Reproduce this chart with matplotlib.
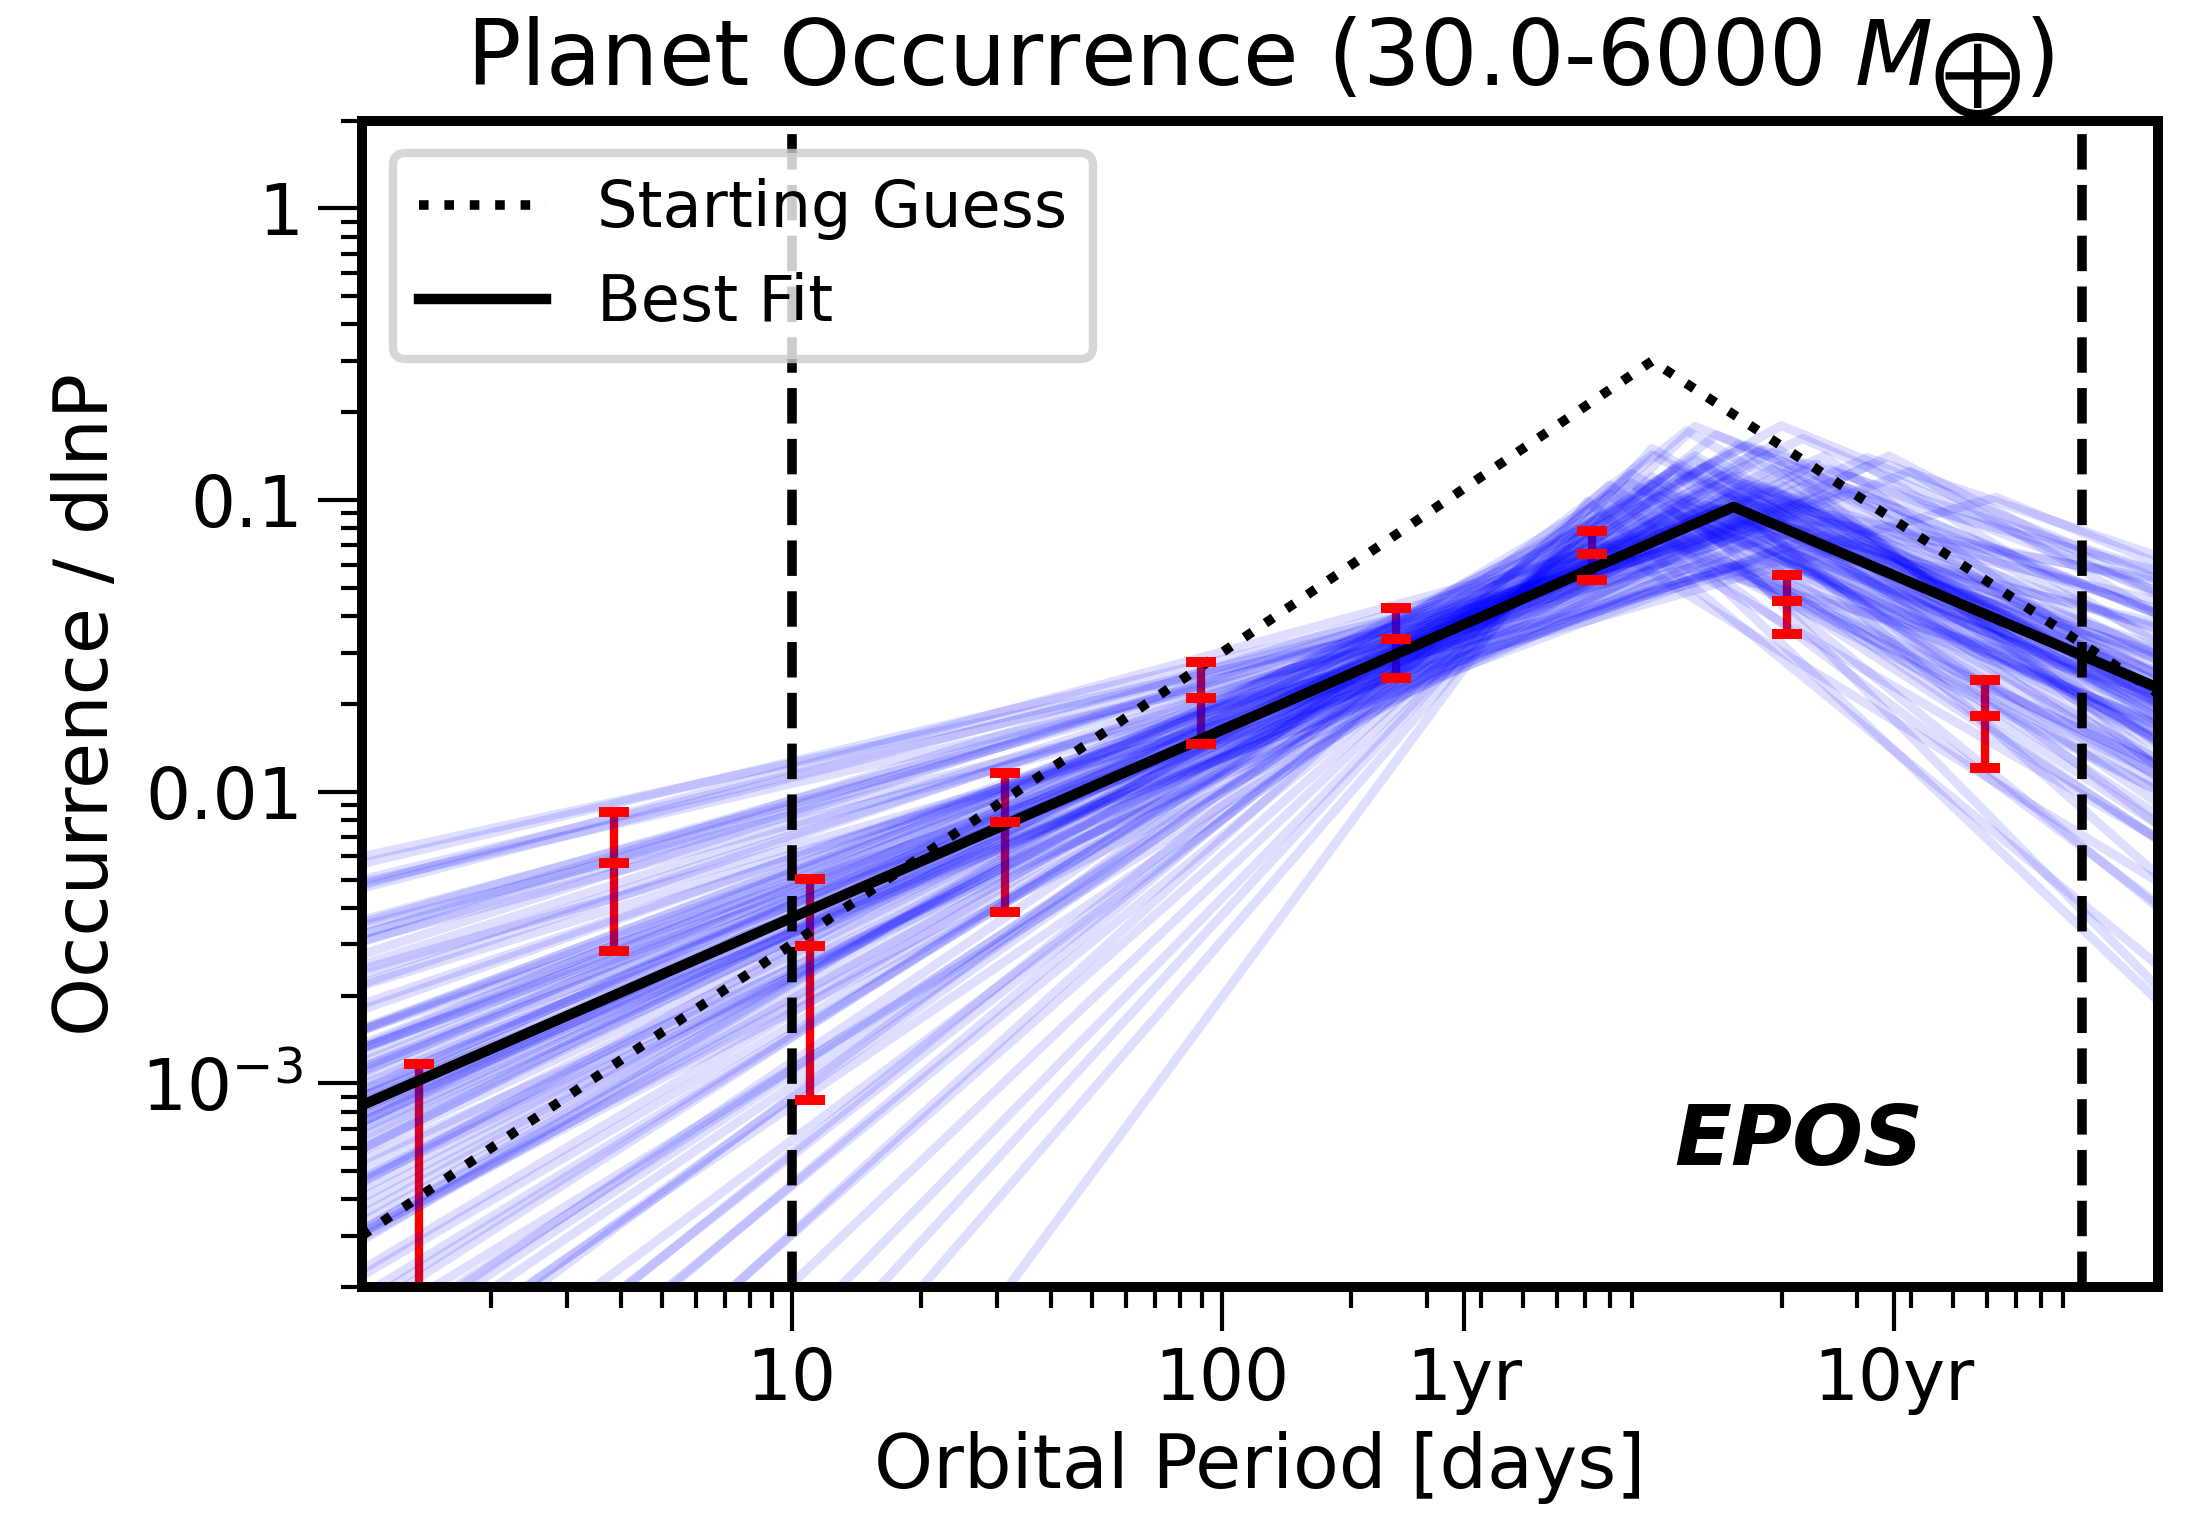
import numpy as np
import matplotlib
matplotlib.use('Agg')
import matplotlib.pyplot as plt
from matplotlib import ticker

# binned occurrence rates (red error bars): centre, lower and upper ends
bin_period = [1.36, 3.87, 11.0, 31.3, 89.3, 254, 724, 2061, 5943]
occ_mid = [1.5e-4, 5.68e-3, 2.97e-3, 7.89e-3, 0.0209, 0.0334, 0.0653, 0.0452, 0.0182]
occ_low = [1e-5, 2.85e-3, 8.77e-4, 3.88e-3, 0.01454, 0.0246, 0.0532, 0.0347, 0.0121]
occ_high = [1.17e-3, 8.54e-3, 5.04e-3, 0.01162, 0.0278, 0.0425, 0.0783, 0.0553, 0.0242]

# broken power laws: vertices at P=1, at the break and at the right edge
guess_period = [1, 1000, 15000]
guess_occ = [3.0e-4, 0.30, 0.0217]
best_period = [1, 1545, 15000]
best_occ = [8.4e-4, 0.0948, 0.0227]

# posterior samples (blue): log10 break period, log10 occurrence at P=1, at break, at P=15000
samp_logpb = [3.19, 3.25, 3.15, 3.30, 3.10, 3.20, 3.20, 3.35, 3.05, 3.25,
              3.17, 3.00, 3.08, 3.50, 3.80, 2.83, 3.22, 3.18, 3.12, 3.28,
              3.40, 3.05, 3.30, 3.15, 3.10, 3.00, 2.95, 2.90, 3.24, 3.14,
              3.26, 3.21, 3.02, 3.18, 3.35, 3.08, 3.45, 3.16, 3.28, 3.20,
              3.05, 3.12, 3.40, 3.22, 3.10, 3.30, 3.24, 3.12, 3.05, 3.60,
              3.16, 3.30, 3.05, 3.20, 3.26, 2.98, 2.85, 3.10, 3.05, 3.14,
              3.50, 3.20, 3.25, 3.15, 3.30, 3.10, 3.40, 3.20, 3.10, 3.35,
              3.12, 3.05, 3.25, 3.00, 3.45, 3.22, 3.18, 3.10, 3.30, 2.95,
              3.28, 3.14, 3.38, 2.95, 3.20, 3.00, 3.55, 3.05, 3.25, 3.20,
              3.30, 3.10, 3.15, 3.40, 3.00, 3.20, 2.90, 3.28, 3.12, 3.50]
samp_left = [-3.065, -2.946, -3.234, -2.812, -3.328, -2.659, -3.502, -2.515, -3.729, -2.247,
             -2.223, -4.007, -4.428, -3.160, -2.511, -3.927, -2.927, -3.154, -3.223, -3.046,
             -2.748, -3.422, -2.450, -3.903, -4.295, -4.820, -5.366, -5.911, -3.115, -2.817,
             -3.363, -2.629, -3.640, -2.331, -3.006, -3.184, -2.957, -3.531, -2.818, -3.095,
             -4.101, -3.759, -2.441, -3.393, -2.906, -2.729, -3.660, -2.490, -4.552, -2.882,
             -3.021, -3.288, -2.882, -3.947, -2.594, -3.476, -6.704, -5.088, -2.302, -3.199,
             -3.130, -2.965, -3.086, -3.133, -2.982, -3.342, -2.819, -3.849, -2.321, -3.134,
             -3.265, -3.505, -2.665, -4.145, -3.106, -3.228, -3.047, -3.793, -2.461, -4.596,
             -3.044, -2.878, -3.512, -3.540, -2.489, -5.623, -3.334, -2.876, -4.077, -2.312,
             -3.451, -2.947, -4.399, -3.025, -2.559, -3.513, -4.864, -2.867, -3.323, -2.610]
samp_peak = [-1.024, -0.996, -1.029, -0.997, -1.003, -1.058, -0.942, -1.007, -0.984, -1.109,
             -1.208, -1.007, -0.762, -0.885, -0.991, -1.097, -1.059, -0.992, -0.977, -1.012,
             -0.980, -1.043, -1.064, -0.911, -0.885, -0.920, -0.940, -0.981, -0.976, -1.059,
             -0.951, -1.088, -0.982, -1.123, -0.929, -1.028, -0.956, -0.940, -1.046, -0.983,
             -0.898, -0.888, -1.081, -0.945, -1.046, -1.078, -0.874, -1.117, -0.892, -0.902,
             -1.030, -0.879, -1.143, -0.811, -1.062, -1.063, -1.004, -0.748, -1.204, -1.033,
             -0.855, -0.917, -1.136, -0.865, -1.167, -0.862, -1.118, -0.969, -1.081, -0.789,
             -1.206, -0.913, -1.202, -0.845, -0.967, -0.813, -1.202, -0.848, -1.207, -0.909,
             -0.814, -1.245, -0.876, -0.944, -1.017, -0.823, -0.849, -1.046, -0.827, -1.224,
             -0.745, -1.211, -0.776, -0.849, -1.119, -1.081, -0.949, -0.964, -1.077, -1.140]
samp_right = [-1.645, -1.644, -1.645, -1.698, -1.595, -1.692, -1.674, -1.750, -1.547, -1.526,
              -1.912, -1.771, -1.694, -1.493, -1.217, -2.308, -2.111, -2.287, -1.347, -1.281,
              -1.601, -2.113, -1.590, -1.629, -1.746, -1.978, -2.166, -2.385, -1.444, -1.660,
              -1.574, -1.813, -1.699, -1.671, -1.920, -2.672, -1.246, -1.804, -1.270, -1.910,
              -1.709, -1.522, -1.624, -1.375, -1.907, -1.954, -1.389, -1.772, -1.624, -1.392,
              -1.436, -1.536, -1.909, -1.836, -1.538, -1.996, -2.595, -1.394, -2.161, -1.717,
              -1.193, -1.600, -1.692, -1.686, -1.649, -1.830, -1.506, -1.652, -1.727, -1.326,
              -1.998, -2.039, -1.943, -1.727, -1.475, -1.243, -2.397, -1.763, -1.820, -1.890,
              -1.665, -1.659, -1.314, -1.802, -1.847, -1.823, -1.319, -1.778, -1.892, -1.761,
              -1.271, -2.717, -1.392, -1.664, -1.942, -1.423, -2.161, -1.681, -2.080, -1.546]

xticks = [10, 100, 365.25, 3652.5]
xticklabels = ['10', '100', '1yr', '10yr']
yticks = [1e-3, 1e-2, 1e-1, 1]
yticklabels = [r'$10^{-3}$', '0.01', '0.1', '1']

fig = plt.figure(figsize=(2203/300., 1527/300.), dpi=300)
ax = fig.add_axes([0.1641, 0.157, 0.8155, 0.764])

#posterior samples
for i in range(len(samp_logpb)):
    ax.plot([1, 10**samp_logpb[i], 15000],
            [10**samp_left[i], 10**samp_peak[i], 10**samp_right[i]],
            color='b', alpha=0.13, lw=2.2, zorder=1)

ax.plot(guess_period, guess_occ, ':', color='k', lw=2.3, label='Starting Guess', zorder=3)
ax.plot(best_period, best_occ, '-', color='k', lw=2.5, label='Best Fit', zorder=3)

ax.axvline(10, color='k', ls='--', lw=2.3, zorder=3)
ax.axvline(1e4, color='k', ls='--', lw=2.3, zorder=3)

yerr = [np.array(occ_mid) - np.array(occ_low), np.array(occ_high) - np.array(occ_mid)]
eb = ax.errorbar(bin_period, occ_mid, yerr=yerr, fmt='_', color='r', ms=7.2, mew=2.4,
                 elinewidth=2.0, capsize=3.6, capthick=2.4, zorder=4)
#vertical bars sit under the blue samples, caps on top
eb[2][0].set_zorder(0.5)

ax.set_xscale('log')
ax.set_yscale('log')
ax.set_xlim(1, 15000)
ax.set_ylim(2e-4, 2)

ax.set_xticks(xticks)
ax.set_xticklabels(xticklabels)
ax.xaxis.set_minor_locator(ticker.LogLocator(base=10, subs=np.arange(2, 10), numticks=30))
ax.xaxis.set_minor_formatter(ticker.NullFormatter())
ax.set_yticks(yticks)
ax.set_yticklabels(yticklabels)
ax.yaxis.set_minor_locator(ticker.LogLocator(base=10, subs=np.arange(2, 10), numticks=30))
ax.yaxis.set_minor_formatter(ticker.NullFormatter())

ax.tick_params(which='major', direction='out', length=10.5, width=1.0, labelsize=17)
ax.tick_params(which='minor', direction='out', length=5, width=1.0)
for s in ax.spines.values():
    s.set_linewidth(2.4)

ax.set_xlabel('Orbital Period [days]', fontsize=18)
ax.set_ylabel('Occurrence / dlnP', fontsize=18)
ax.set_title(r'Planet Occurrence (30.0-6000 $M_\bigoplus$)', fontsize=21.7, pad=2)

leg = ax.legend(loc='upper left', fontsize=15.3, framealpha=0.8, edgecolor='0.8')
leg.get_frame().set_linewidth(2)

ax.text(0.80, 0.125, 'EPOS', transform=ax.transAxes, fontsize=20, fontweight='bold',
        fontstyle='italic', ha='center', va='center')

fig.savefig('out.png', dpi=300)
